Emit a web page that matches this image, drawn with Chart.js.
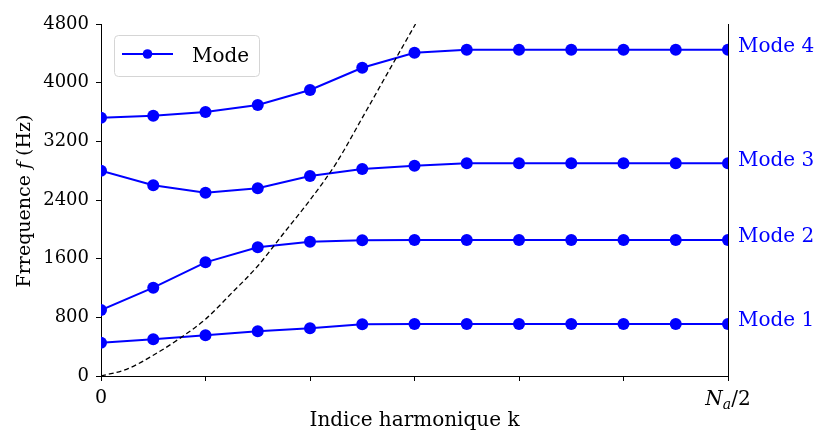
<!DOCTYPE html>
<html><head><meta charset="utf-8">
<script src="https://cdn.jsdelivr.net/npm/chart.js@4"></script>
<style>html,body{margin:0;padding:0;background:#fff}</style>
</head><body>
<canvas id="c" width="815" height="434" style="display:block;width:815px;height:434px"></canvas>
<script>
// ---- data ----
const kIndex = [0,1,2,3,4,5,6,7,8,9,10,11,12];
const mode1 = [454,500,555,609,650,705,710,710,710,710,710,710,710];
const mode2 = [900,1204,1550,1755,1831,1850,1855,1855,1855,1855,1855,1855,1855];
const mode3 = [2800,2600,2500,2559,2727,2823,2868,2900,2900,2900,2900,2900,2900];
const mode4 = [3522,3550,3600,3695,3900,4204,4409,4450,4450,4450,4450,4450,4450];
const curveK = [0,0.5,1,1.5,2,2.5,3,3.5,4,4.5,5,5.5,6.02];
const curveF = [0,95,283,510,775,1130,1500,1950,2400,2900,3520,4150,4800];
const modeNames = ['Mode 1','Mode 2','Mode 3','Mode 4'];
const yTickValues = [0,800,1600,2400,3200,4000,4800];
const xTickLabelFirst = '0';
const legendLabel = 'Mode';

const BLUE = '#0000ff';
const FONT = '"DejaVu Serif", serif';
const modes = [mode1, mode2, mode3, mode4];

const pts = (xs, ys) => xs.map((x, i) => ({x, y: ys[i]}));

const datasets = [{
  label: 'curve',
  data: pts(curveK, curveF),
  borderColor: '#000',
  borderWidth: 1.3,
  borderDash: [5, 3],
  pointRadius: 0,
  cubicInterpolationMode: 'monotone',
  fill: false
}];
modes.forEach((m, i) => datasets.push({
  label: i === 0 ? legendLabel : modeNames[i],
  data: pts(kIndex, m),
  borderColor: BLUE,
  backgroundColor: BLUE,
  borderWidth: 2,
  pointRadius: 6,
  pointBorderWidth: 0,
  pointBackgroundColor: BLUE,
  tension: 0,
  fill: false
}));

const textPlugin = {
  id: 'texts',
  afterDraw(chart) {
    const ctx = chart.ctx, ca = chart.chartArea;
    const xs = chart.scales.x, ys = chart.scales.y;
    ctx.save();
    // mode labels at right
    ctx.fillStyle = BLUE;
    ctx.font = '20px ' + FONT;
    ctx.textAlign = 'left';
    ctx.textBaseline = 'middle';
    modes.forEach((m, i) => {
      ctx.fillText(modeNames[i], ca.right + 10, ys.getPixelForValue(m[m.length - 1]) - 3);
    });
    // x tick labels
    ctx.fillStyle = '#000';
    ctx.font = '19px ' + FONT;
    ctx.textAlign = 'center';
    ctx.textBaseline = 'middle';
    ctx.fillText(xTickLabelFirst, xs.getPixelForValue(kIndex[0]), 398);
    // N_a/2
    {
      const cx = xs.getPixelForValue(kIndex[kIndex.length - 1]);
      const fN = 'italic 20px ' + FONT, fa = 'italic 14px ' + FONT, f2 = '20px ' + FONT;
      ctx.font = fN; const wN = ctx.measureText('N').width;
      ctx.font = fa; const wa = ctx.measureText('a').width;
      ctx.font = f2; const w2 = ctx.measureText('/2').width;
      let x0 = cx - (wN + wa + w2) / 2;
      ctx.textAlign = 'left';
      ctx.textBaseline = 'alphabetic';
      const base = 405;
      ctx.font = fN; ctx.fillText('N', x0, base); x0 += wN;
      ctx.font = fa; ctx.fillText('a', x0, base + 4); x0 += wa;
      ctx.font = f2; ctx.fillText('/2', x0, base);
    }
    // x title
    ctx.font = '20px ' + FONT;
    ctx.textAlign = 'center';
    ctx.textBaseline = 'middle';
    ctx.fillText('Indice harmonique k', (ca.left + ca.right) / 2, 421);
    // y title
    {
      const parts = [['Frrequence ', '19px ' + FONT], ['f', 'italic 19px ' + FONT], [' (Hz)', '19px ' + FONT]];
      let total = 0;
      const ws = parts.map(p => { ctx.font = p[1]; const w = ctx.measureText(p[0]).width; total += w; return w; });
      ctx.translate(30, 201);
      ctx.rotate(-Math.PI / 2);
      ctx.textAlign = 'left';
      ctx.textBaseline = 'alphabetic';
      let x0 = -total / 2;
      parts.forEach((p, i) => { ctx.font = p[1]; ctx.fillText(p[0], x0, 0); x0 += ws[i]; });
      ctx.setTransform(1, 0, 0, 1, 0, 0);
    }
    // legend
    {
      const bx = 114.5, by = 35.5, bw = 145, bh = 41, r = 4;
      ctx.beginPath();
      ctx.roundRect(bx, by, bw, bh, r);
      ctx.fillStyle = 'rgba(255,255,255,0.8)';
      ctx.fill();
      ctx.strokeStyle = '#d5d5d5';
      ctx.lineWidth = 1;
      ctx.stroke();
      const ly = 54;
      ctx.beginPath();
      ctx.moveTo(122, ly); ctx.lineTo(173, ly);
      ctx.strokeStyle = BLUE; ctx.lineWidth = 2; ctx.stroke();
      ctx.beginPath(); ctx.arc(147.5, ly, 4.8, 0, Math.PI * 2);
      ctx.fillStyle = BLUE; ctx.fill();
      ctx.fillStyle = '#000';
      ctx.font = '20px ' + FONT;
      ctx.textAlign = 'left';
      ctx.textBaseline = 'alphabetic';
      ctx.fillText(legendLabel, 192, 62);
    }
    ctx.restore();
  }
};

const axisGrid = {drawOnChartArea: false, drawTicks: true, tickLength: 5, color: '#000', tickColor: '#000', lineWidth: 1};

new Chart(document.getElementById('c'), {
  type: 'line',
  data: {datasets},
  options: {
    responsive: false,
    devicePixelRatio: 1,
    animation: false,
    layout: {padding: {top: 24, left: 0, right: 0, bottom: 0}},
    plugins: {legend: {display: false}, tooltip: {enabled: false}},
    scales: {
      x: {
        type: 'linear', position: 'bottom', min: kIndex[0], max: kIndex[kIndex.length - 1],
        ticks: {stepSize: 2, callback: () => '', font: {family: FONT, size: 18}},
        grid: axisGrid,
        border: {display: true, color: '#000', width: 1},
        afterFit: s => { s.height = 58; }
      },
      y: {
        type: 'linear', position: 'left', min: yTickValues[0], max: yTickValues[yTickValues.length - 1],
        afterBuildTicks: s => { s.ticks = yTickValues.map(v => ({value: v})); },
        ticks: {color: '#000', padding: 7, font: {family: FONT, size: 18}, callback: v => String(v)},
        grid: axisGrid,
        border: {display: true, color: '#000', width: 1},
        afterFit: s => { s.width = 101; }
      },
      y2: {
        type: 'linear', position: 'right', min: 0, max: 4800,
        ticks: {display: false},
        grid: {drawOnChartArea: false, drawTicks: false},
        border: {display: true, color: '#000', width: 1},
        afterFit: s => { s.width = 87; }
      }
    }
  },
  plugins: [textPlugin]
});
</script>
</body></html>
